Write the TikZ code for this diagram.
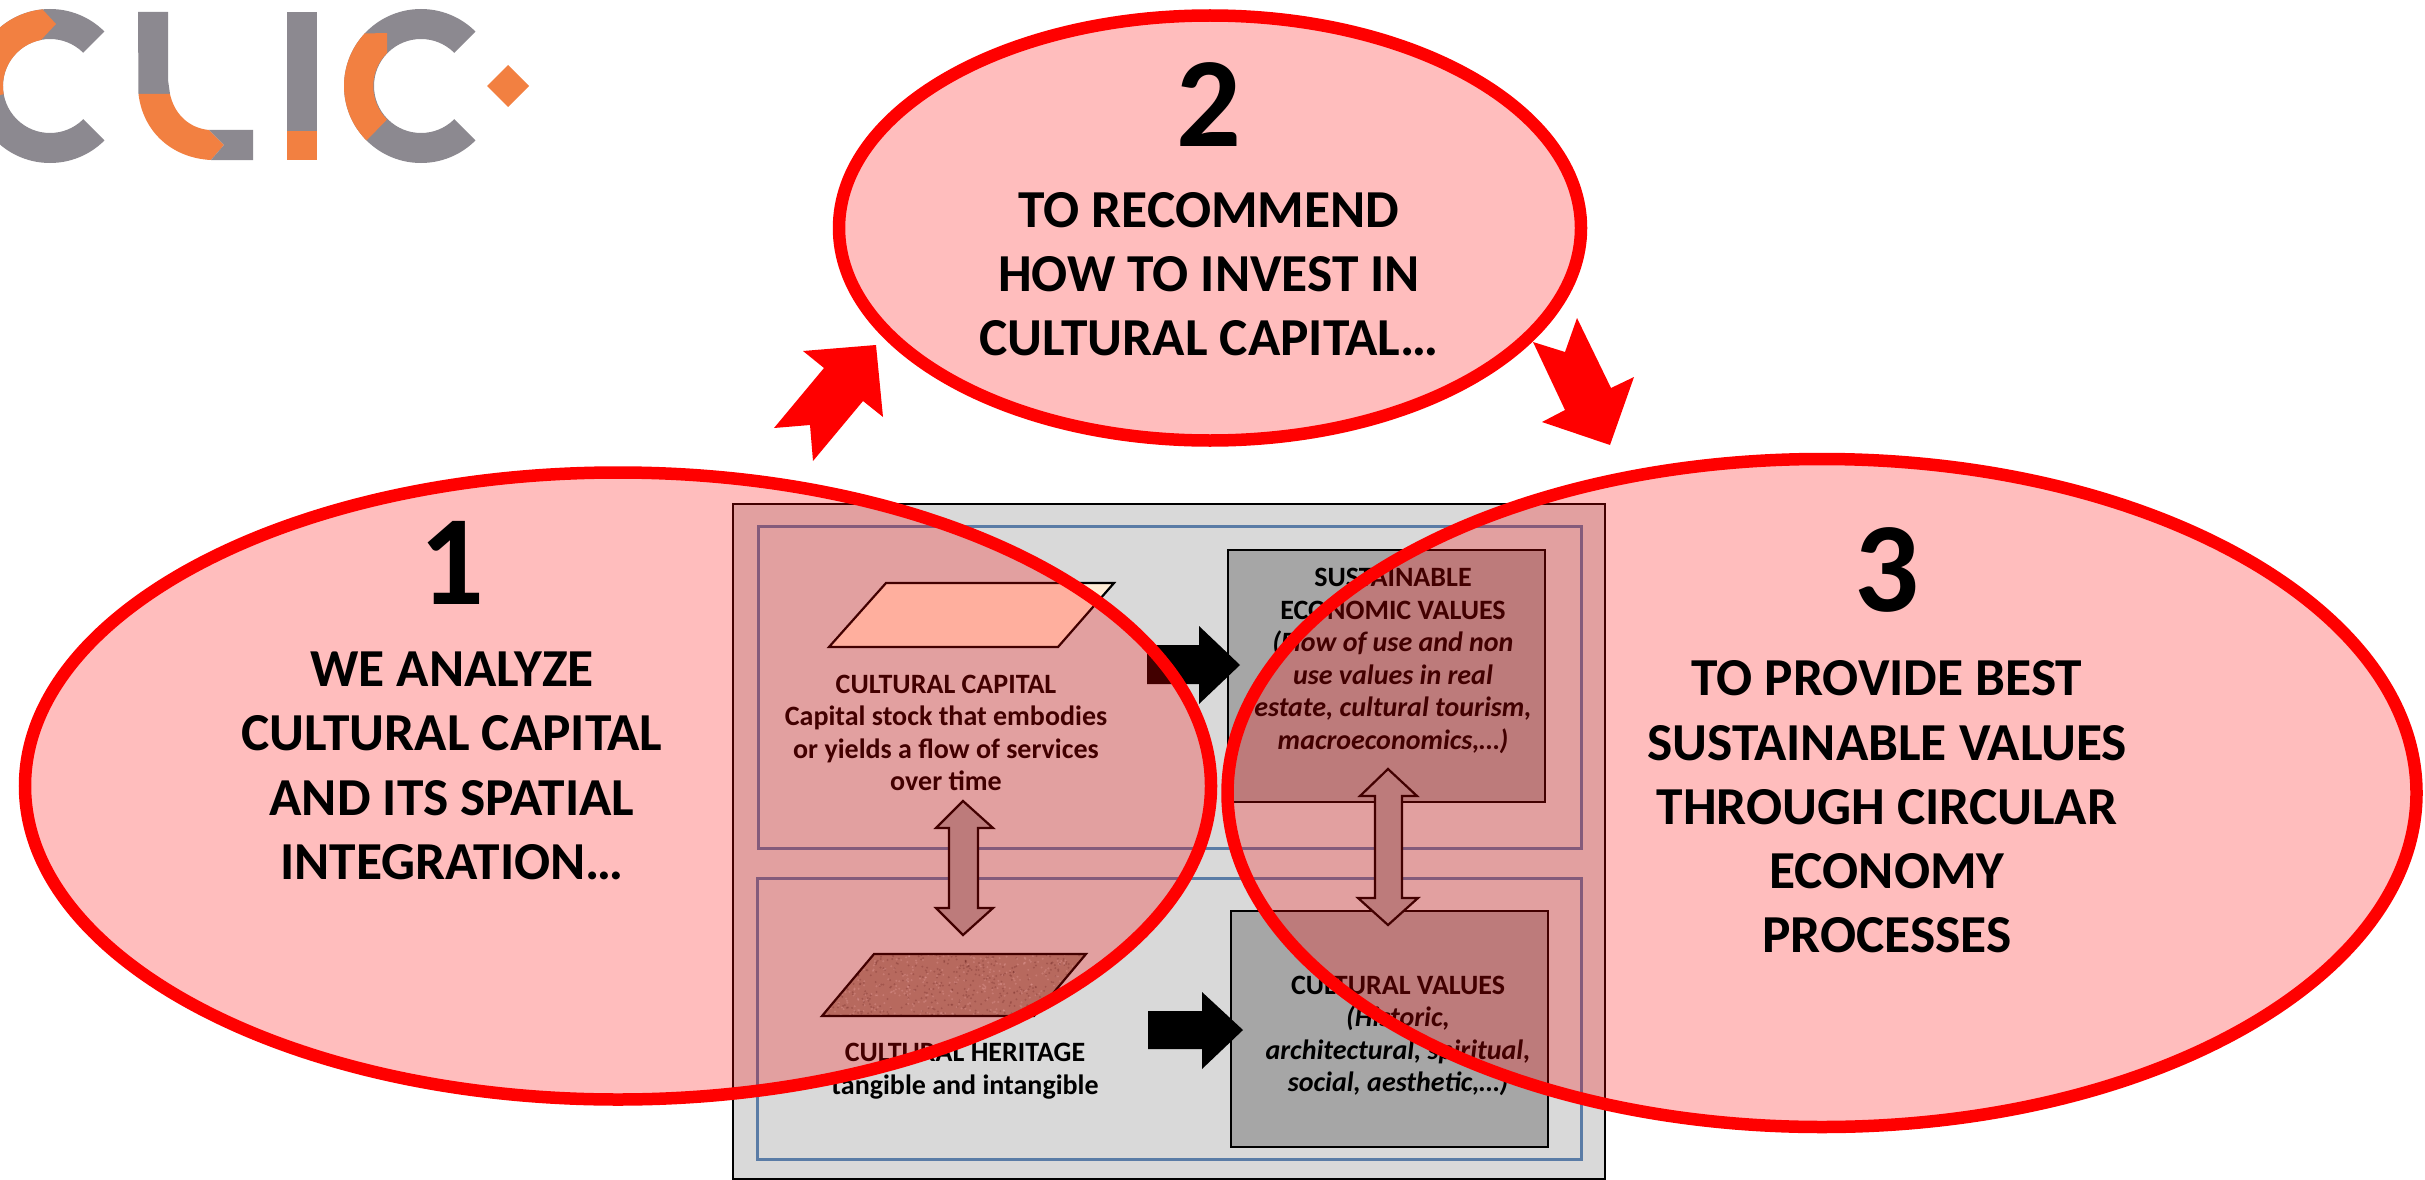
\documentclass[tikz,border=0pt]{standalone}
\usepackage{fontspec}
\setmainfont{Carlito}
\usetikzlibrary{shapes.geometric}
\definecolor{logog}{HTML}{8C8990}
\definecolor{logoo}{HTML}{F28041}
\definecolor{panelb}{HTML}{5A7CA6}
\definecolor{cream}{HTML}{FFEDD6}
\definecolor{boxg}{HTML}{A6A6A6}
\definecolor{pict}{HTML}{D9D9D9}
\definecolor{herit}{HTML}{9F8E80}
\tikzset{
  bigell/.style={ellipse,draw=red,line width=12.5pt,fill=red,fill opacity=0.26,draw opacity=1,inner sep=0pt},
  panelbox/.style={draw=panelb,line width=3pt},
  valbox/.style={draw=black,line width=2.8pt,fill=boxg},
  bigtext/.style={align=center,font=\fontsize{53.4}{64.3}\selectfont\bfseries,inner sep=0pt,text=black},
  numeral/.style={font=\fontsize{128}{140}\selectfont\bfseries,inner sep=0pt,text=black},
  smalltext/.style={align=center,font=\fontsize{28}{32.6}\selectfont\bfseries,inner sep=0pt,text=black},
  dblarrow/.style={draw=black,line width=2.2pt,fill=boxg,line join=miter},
  blockarrow/.style={fill=black},
  redarrow/.style={fill=red}
}
\begin{document}
\begin{tikzpicture}[x=1pt,y=-1pt]
\useasboundingbox (0,0) rectangle (2425,1180);
\fill[white] (0,0) rectangle (2425,1180);
% logo
\begin{scope}[shift={(50,86)},x=1pt,y=1pt]
  \fill[logog] (45:77pt) arc[start angle=45,end angle=315,radius=77pt] -- (315:47pt) arc[start angle=315,end angle=45,radius=47pt] -- cycle;
  \fill[logoo] (-7pt,76pt) -- (6pt,62pt) -- (-9pt,46pt) arc[start angle=101,end angle=190,radius=47pt] -- (190:77pt) arc[start angle=190,end angle=95,radius=77pt] -- cycle;
\end{scope}
\fill[logog] (138,12) -- (168,12) -- (168,80) -- (170,94) -- (138.5,94) -- cycle;
\fill[logoo] (138.5,94) .. controls (143,132) and (172,158) .. (211,160) -- (224,145) -- (209,130) .. controls (188,128) and (174,113) .. (170,94) -- cycle;
\fill[logog] (209,130) -- (253,130) -- (253,160) -- (211,160) -- (224,145) -- cycle;
\fill[logog] (286.5,12) rectangle (317,131);
\fill[logoo] (286.5,131) rectangle (317,160);
\begin{scope}[shift={(421,86)},x=1pt,y=1pt]
  \fill[logog] (45:77pt) arc[start angle=45,end angle=315,radius=77pt] -- (315:47pt) arc[start angle=315,end angle=45,radius=47pt] -- cycle;
  \fill[logoo] (137:77pt) -- (-34pt,53pt) -- (-34pt,33pt) arc[start angle=135,end angle=225,radius=47pt] -- (225:77pt) arc[start angle=225,end angle=137,radius=77pt] -- cycle;
\end{scope}
\fill[logoo] (508,65) -- (529,86) -- (508,107) -- (487,86) -- cycle;
% embedded picture
\draw[fill=pict,draw=black,line width=1.6pt] (733,504) rectangle (1605,1179);
\draw[panelbox] (758,526) rectangle (1581,848);
\draw[panelbox] (757,878) rectangle (1581,1159);
% parallelograms
\draw[fill=cream,draw=black,line width=2.2pt,line join=miter] (886,583) -- (1114,583) -- (1058,647) -- (829,647) -- cycle;
\fill[herit] (874,954) -- (1086,954) -- (1034,1016) -- (822,1016) -- cycle;
\begin{scope}
  \clip (874,954) -- (1086,954) -- (1034,1016) -- (822,1016) -- cycle;
  \pgfmathsetseed{4242}
  \foreach \i in {1,...,900}{
    \pgfmathsetmacro{\px}{820+rnd*270}
    \pgfmathsetmacro{\py}{952+rnd*66}
    \pgfmathsetmacro{\pg}{rnd}
    \ifdim\pg pt<0.5pt
      \fill[white,opacity=0.22] (\px,\py) circle[radius=1.1pt];
    \else
      \fill[black,opacity=0.18] (\px,\py) circle[radius=1.1pt];
    \fi
  }
\end{scope}
\draw[draw=black,line width=2.2pt,line join=miter] (874,954) -- (1086,954) -- (1034,1016) -- (822,1016) -- cycle;
% value boxes
\draw[valbox] (1228,550) rectangle (1545,802);
\draw[valbox] (1231,911) rectangle (1548,1147);
% block arrows
\fill[blockarrow] (1147,645) -- (1199,645) -- (1199,626) -- (1240,665) -- (1199,704) -- (1199,684) -- (1147,684) -- cycle;
\fill[blockarrow] (1148,1011) -- (1202,1011) -- (1202,992) -- (1243,1030) -- (1202,1069) -- (1202,1049) -- (1148,1049) -- cycle;
% double arrows
\draw[dblarrow] (963,801) -- (993,828) -- (978,828) -- (978,908) -- (993,908) -- (963,935) -- (936,908) -- (949,908) -- (949,828) -- (936,828) -- cycle;
\draw[dblarrow] (1388,769) -- (1417,796) -- (1402,796) -- (1402,898) -- (1418,898) -- (1388,925) -- (1358,898) -- (1375,898) -- (1375,796) -- (1360,796) -- cycle;
% picture texts
\node[smalltext] (cc) at (946,733) {CULTURAL CAPITAL\\Capital stock that embodies\\or yields a flow of services\\over time};
\node[smalltext] (ch) at (965,1071) {CULTURAL HERITAGE\\tangible and intangible};
\node[smalltext] (sev) at (1393,661) {SUSTAINABLE\\ECONOMIC VALUES\\\itshape (Flow of use and non\\\itshape use values in real\\\itshape estate, cultural tourism,\\\itshape macroeconomics,\dots)};
\node[smalltext] (cv) at (1398,1036) {CULTURAL VALUES\\\itshape (Historic,\\\itshape architectural, spiritual,\\\itshape social, aesthetic,\dots)};
% big ellipses
\node[bigell,minimum width=1186pt,minimum height=627pt] (e1) at (618,786) {};
\node[bigell,minimum width=742pt,minimum height=425pt] (e2) at (1210,228) {};
\node[bigell,minimum width=1189pt,minimum height=668pt] (e3) at (1822,793) {};
% big texts
\node[numeral] (n1) at (452,563) {1};
\node[numeral] (n2) at (1209,105) {2};
\node[numeral] (n3) at (1887,570) {3};
\node[bigtext] (t1) at (452,766) {WE ANALYZE\\CULTURAL CAPITAL\\AND ITS SPATIAL\\INTEGRATION\dots};
\node[bigtext] (t2) at (1209,274) {TO RECOMMEND\\HOW TO INVEST IN\\CULTURAL CAPITAL\dots};
\node[bigtext] (t3) at (1887,807) {TO PROVIDE BEST\\SUSTAINABLE VALUES\\THROUGH CIRCULAR\\ECONOMY\\PROCESSES};
% red arrows
\fill[redarrow] (876,345) -- (803,351) -- (824,368) -- (774,428) -- (810,425) -- (813,461) -- (863,401) -- (883,417) -- cycle;
\fill[redarrow] (1533,342) -- (1565,352) -- (1577,318) -- (1611,388) -- (1634,377) -- (1610,445) -- (1542,422) -- (1565,410) -- cycle;
\end{tikzpicture}
\end{document}
